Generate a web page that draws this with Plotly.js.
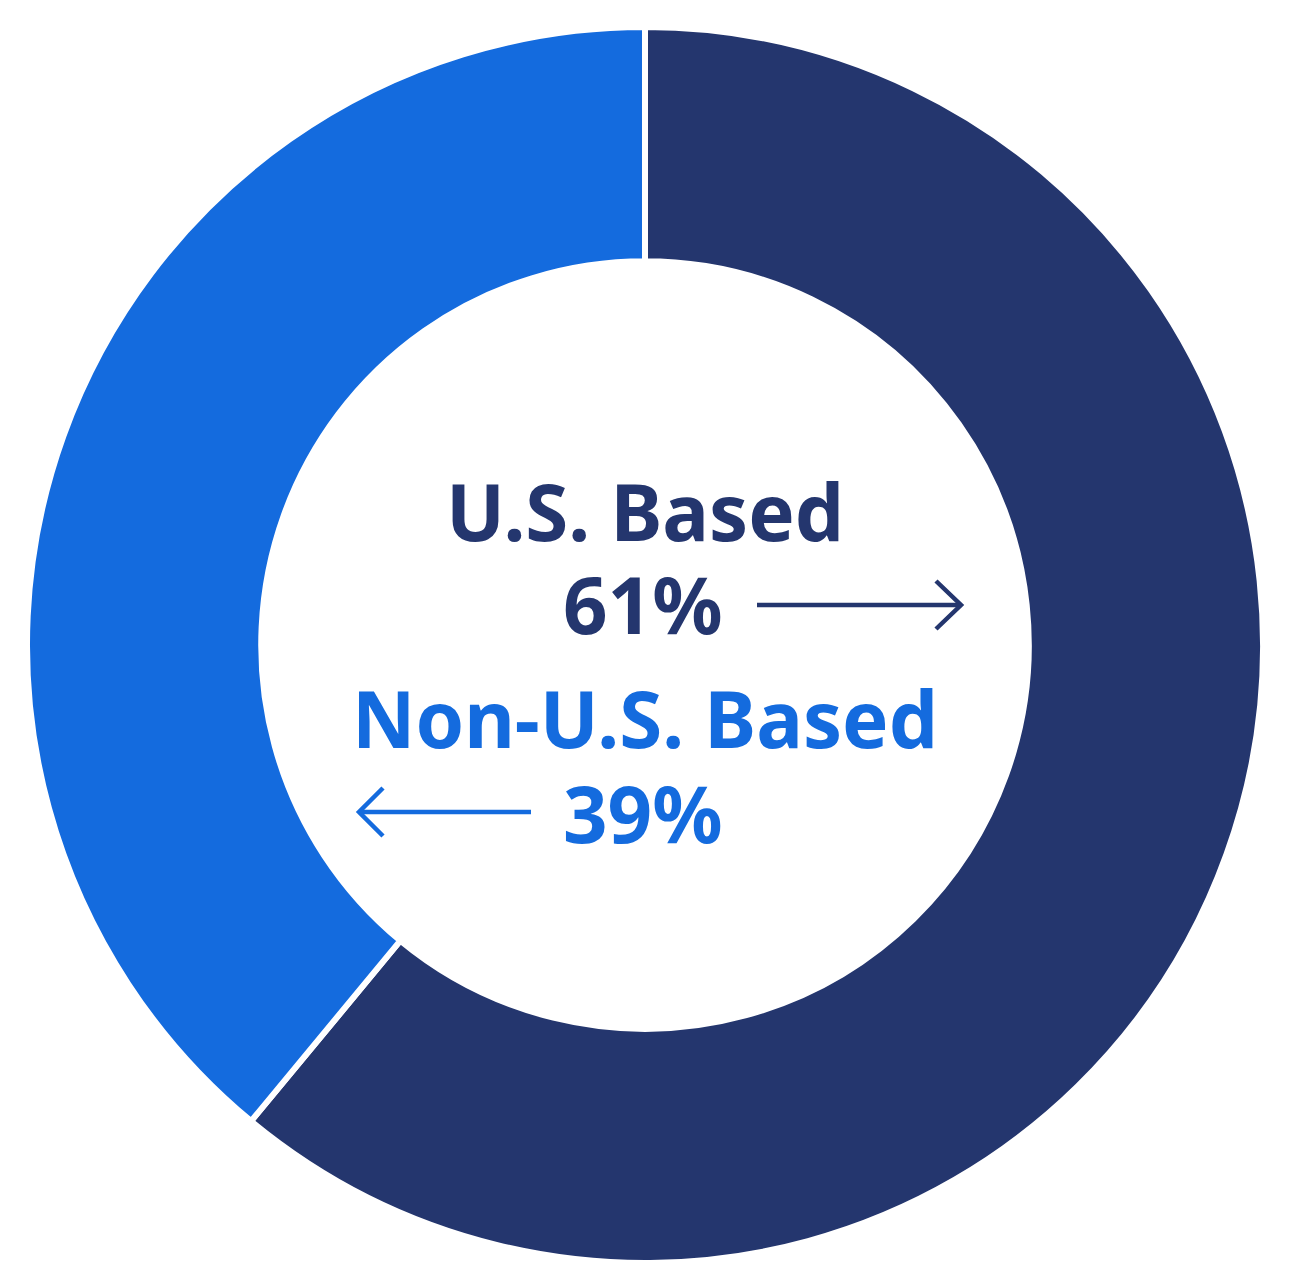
<!DOCTYPE html>
<html>
<head>
<meta charset="utf-8">
<script src="https://cdn.plot.ly/plotly-3.0.1.min.js"></script>
<style>html,body{margin:0;padding:0;background:#fff;}#chart{width:1289px;height:1288px;}</style>
</head>
<body>
<div id="chart"></div>
<script>
const categories = ["U.S. Based", "Non-U.S. Based"];
const shares = [61, 39];
const percentLabels = ["61%", "39%"];
const colors = ["#24366E", "#146BDE"];

const W = 1289, H = 1288;
const px = x => x / W;
const py = y => 1 - y / H;
const cx = 645, cy = 645, R = 618;

const font = "'Noto Sans', 'Open Sans', sans-serif";
const fs = 78;

const data = [{
  type: "pie",
  labels: categories,
  values: shares,
  sort: false,
  direction: "clockwise",
  rotation: 0,
  hole: 0.621,
  textinfo: "none",
  hoverinfo: "label+percent",
  marker: { colors: colors, line: { color: "#ffffff", width: 6 } },
  domain: { x: [px(cx - R), px(cx + R)], y: [py(cy + R), py(cy - R)] },
  showlegend: false
}];

function ann(text, x, y, color) {
  return { text: text, x: px(x), y: py(y), xref: "paper", yref: "paper",
    xanchor: "center", yanchor: "middle", showarrow: false, height: 84,
    font: { family: font, size: fs, color: color, weight: 700 } };
}

const annotations = [
  ann(categories[0], 645, 511, colors[0]),
  ann(percentLabels[0], 643, 604, colors[0]),
  ann(categories[1], 645, 718, colors[1]),
  ann(percentLabels[1], 643, 813, colors[1])
];

function line(x0, y0, x1, y1, color) {
  return { type: "line", xref: "paper", yref: "paper", x0: px(x0), y0: py(y0), x1: px(x1), y1: py(y1),
    line: { color: color, width: 4.5 } };
}
function chevron(xa, ya, xt, yt, xb, yb, color) {
  return { type: "path", xref: "paper", yref: "paper",
    path: `M ${px(xa)} ${py(ya)} L ${px(xt)} ${py(yt)} L ${px(xb)} ${py(yb)}`,
    line: { color: color, width: 4.5 } };
}

const shapes = [
  line(757, 605, 961, 605, colors[0]),
  chevron(936, 581, 961, 605, 936, 629, colors[0]),
  line(359, 812, 531, 812, colors[1]),
  chevron(383, 788, 359, 812, 383, 836, colors[1])
];

const layout = {
  width: W, height: H,
  margin: { l: 0, r: 0, t: 0, b: 0 },
  paper_bgcolor: "#ffffff",
  plot_bgcolor: "#ffffff",
  showlegend: false,
  annotations: annotations,
  shapes: shapes
};

Plotly.newPlot("chart", data, layout, { displayModeBar: false, staticPlot: true });
</script>
</body>
</html>
